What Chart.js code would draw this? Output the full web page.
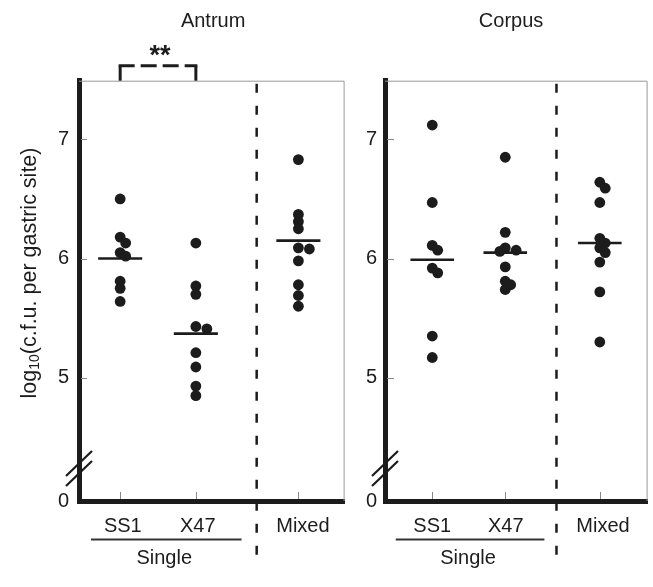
<!DOCTYPE html>
<html><head><meta charset="utf-8">
<script src="https://cdn.jsdelivr.net/npm/chart.js@4/dist/chart.umd.min.js"></script>
<style>
html,body{margin:0;padding:0;background:#fff;}
#wrap{position:relative;width:653px;height:587px;background:#fff;}
canvas{position:absolute;left:0;top:0;}
</style></head><body>
<div id="wrap"><canvas id="c1" width="653" height="587"></canvas><canvas id="c2" width="653" height="587"></canvas></div>
<script>
// ---- data ----
const categories = ['SS1', 'X47', 'Mixed'];
const groupLabel = 'Single';
const panelTitles = ['Antrum', 'Corpus'];
const yTickValues = [5, 6, 7];
const yBreakLabel = '0';
const yTitleMain = 'log';
const yTitleSub = '10';
const yTitleRest = '(c.f.u. per gastric site)';
const significance = '**';

const antrumSS1   = [6.50, 6.18, 6.13, 6.05, 6.02, 5.81, 5.75, 5.64];
const antrumX47   = [6.13, 5.77, 5.70, 5.43, 5.41, 5.21, 5.09, 4.93, 4.85];
const antrumMixed = [6.83, 6.37, 6.31, 6.25, 6.09, 6.08, 5.98, 5.78, 5.69, 5.60];
const antrumMeans = [6.00, 5.37, 6.15];

const corpusSS1   = [7.12, 6.47, 6.11, 6.07, 5.92, 5.88, 5.35, 5.17];
const corpusX47   = [6.85, 6.22, 6.09, 6.07, 6.06, 5.93, 5.81, 5.78, 5.74];
const corpusMixed = [6.64, 6.59, 6.47, 6.17, 6.13, 6.09, 6.05, 5.97, 5.72, 5.30];
const corpusMeans = [5.99, 6.05, 6.13];

// ---- layout / style ----
const Y_MIN = 3.966, Y_MAX = 7.492;
const FONT = 'Liberation Sans';
const INK = '#1c1c1c';
const PX_PER_Y = 119.2, PX_PER_X = 266;

function swarm(values, pos) {
  const placed = [], out = new Array(values.length);
  const order = values.map((v, i) => i).sort((a, b) => values[b] - values[a]);
  const step = 5.5, minD = 6.5;
  for (const i of order) {
    const v = values[i];
    for (let k = 0; k < 11; k++) {
      const off = (k === 0 ? 0 : (k % 2 ? 1 : -1) * Math.ceil(k / 2)) * step;
      if (placed.every(p => Math.hypot(p.off - off, (p.v - v) * PX_PER_Y) >= minD)) {
        placed.push({ v, off }); out[i] = { x: pos + off / PX_PER_X, y: v }; break;
      }
    }
  }
  return out;
}

const decoPlugin = {
  id: 'deco',
  beforeDatasetsDraw(chart, args, o) {
    const { ctx, chartArea: a, scales: { x, y } } = chart;
    ctx.save();
    ctx.strokeStyle = '#888'; ctx.lineWidth = 1;
    yTickValues.forEach(v => {
      const py = Math.round(y.getPixelForValue(v)) + 0.5;
      ctx.beginPath(); ctx.moveTo(a.left + 2, py); ctx.lineTo(a.left + o.yTickLen, py); ctx.stroke();
    });
    o.pos.forEach(p => {
      const px = Math.round(x.getPixelForValue(p)) + 0.5;
      ctx.beginPath(); ctx.moveTo(px, a.bottom - 2); ctx.lineTo(px, a.bottom - 9); ctx.stroke();
    });
    const dx = x.getPixelForValue(o.dash);
    ctx.strokeStyle = INK; ctx.lineWidth = 2.5; ctx.setLineDash([9, 13]);
    ctx.beginPath(); ctx.moveTo(dx, a.top + 3); ctx.lineTo(dx, a.bottom + 54); ctx.stroke();
    ctx.restore();
  },
  afterDraw(chart, args, o) {
    const { ctx, chartArea: a, scales: { x, y } } = chart;
    ctx.save();
    ctx.strokeStyle = '#999'; ctx.lineWidth = 1;
    ctx.beginPath(); ctx.moveTo(a.left, a.top + 0.5); ctx.lineTo(a.right - 0.5, a.top + 0.5); ctx.lineTo(a.right - 0.5, a.bottom); ctx.stroke();
    ctx.strokeStyle = INK; ctx.lineWidth = 2.2;
    [37, 27].forEach(d => {
      const cy = a.bottom - d;
      ctx.beginPath(); ctx.moveTo(a.left - 13, cy + 12); ctx.lineTo(a.left + 13, cy - 13); ctx.stroke();
    });
    const x1 = x.getPixelForValue(o.single[0]), x2 = x.getPixelForValue(o.single[1]);
    ctx.strokeStyle = '#333'; ctx.lineWidth = 2;
    ctx.beginPath(); ctx.moveTo(x1, a.bottom + 38.5); ctx.lineTo(x2, a.bottom + 38.5); ctx.stroke();
    ctx.fillStyle = INK; ctx.font = '20px "' + FONT + '"';
    ctx.textAlign = 'center'; ctx.textBaseline = 'middle';
    ctx.fillText(groupLabel, (x1 + x2) / 2 - 2, a.bottom + 57);
    ctx.fillText(o.title, x.getPixelForValue(o.titleX), 21);
    if (o.bracket) {
      const bx1 = x.getPixelForValue(o.pos[0]), bx2 = x.getPixelForValue(o.pos[1]);
      const by = a.top - 15;
      ctx.strokeStyle = INK; ctx.lineWidth = 3;
      ctx.beginPath(); ctx.moveTo(bx1, a.top); ctx.lineTo(bx1, by); ctx.stroke();
      ctx.beginPath(); ctx.moveTo(bx2, a.top); ctx.lineTo(bx2, by); ctx.stroke();
      ctx.setLineDash([16, 6]);
      ctx.beginPath(); ctx.moveTo(bx1 - 1.5, by); ctx.lineTo(bx2 + 1.5, by); ctx.stroke();
      ctx.setLineDash([]);
      ctx.font = 'bold 27px "' + FONT + '"';
      ctx.textBaseline = 'alphabetic';
      ctx.fillText(significance, (bx1 + bx2) / 2 + 2, 64);
    }
    if (o.yTitle) {
      ctx.translate(30, 273); ctx.rotate(-Math.PI / 2);
      ctx.textBaseline = 'middle'; ctx.textAlign = 'left';
      const f1 = '21.5px "' + FONT + '"', f2 = '14px "' + FONT + '"';
      ctx.font = f1; const w1 = ctx.measureText(yTitleMain).width, w3 = ctx.measureText(yTitleRest).width;
      ctx.font = f2; const w2 = ctx.measureText(yTitleSub).width;
      let sx = -(w1 + w2 + w3) / 2;
      ctx.font = f1; ctx.fillText(yTitleMain, sx, 0); sx += w1;
      ctx.font = f2; ctx.fillText(yTitleSub, sx, 5); sx += w2;
      ctx.font = f1; ctx.fillText(yTitleRest, sx, 0);
    }
    ctx.restore();
  }
};

function buildPanel(id, p) {
  const series = [p.s1, p.s2, p.s3];
  const datasets = [];
  series.forEach((vals, i) => {
    datasets.push({
      type: 'scatter', data: swarm(vals, p.pos[i]),
      pointRadius: 5.4, pointBackgroundColor: INK, pointBorderWidth: 0, pointHoverRadius: 5.4
    });
  });
  p.means.forEach((m, i) => {
    datasets.push({
      type: 'line', data: [{ x: p.pos[i] - 0.083, y: m }, { x: p.pos[i] + 0.083, y: m }],
      borderColor: INK, borderWidth: 2.6, pointRadius: 0, fill: false
    });
  });
  return new Chart(document.getElementById(id), {
    type: 'scatter',
    data: { datasets },
    options: {
      responsive: false, animation: false, events: [],
      layout: { padding: p.padding },
      plugins: { legend: { display: false }, tooltip: { enabled: false }, deco: p.deco },
      scales: {
        x: {
          type: 'linear', min: 0, max: 1,
          afterFit(s) { s.height = 86; },
          afterBuildTicks(s) { s.ticks = p.labelPos.map(v => ({ value: v })); },
          grid: { display: false, drawTicks: false },
          border: { display: true, width: 5, color: INK },
          ticks: {
            autoSkip: false, maxRotation: 0, minRotation: 0, padding: 13, color: INK,
            font: { family: FONT, size: 20 },
            callback: (v, i) => categories[i]
          }
        },
        y: {
          type: 'linear', min: Y_MIN, max: Y_MAX,
          afterFit(s) { s.width = p.yWidth; },
          afterBuildTicks(s) { s.ticks = [{ value: Y_MIN }].concat(yTickValues.map(v => ({ value: v }))); },
          grid: { display: false, drawTicks: false },
          border: { display: true, width: 5, color: INK },
          ticks: {
            autoSkip: false, padding: p.yPad, color: INK,
            font: { family: FONT, size: 20 },
            callback: v => (v === Y_MIN ? yBreakLabel : String(v))
          }
        }
      }
    },
    plugins: [decoPlugin]
  });
}

const leftPos = [0.155, 0.44, 0.826];
const rightPos = [0.18, 0.458, 0.818];
const leftLabelPos = [0.165, 0.447, 0.843];
const rightLabelPos = [0.18, 0.46, 0.83];

buildPanel('c1', {
  s1: antrumSS1, s2: antrumX47, s3: antrumMixed, means: antrumMeans, pos: leftPos, labelPos: leftLabelPos,
  padding: { left: 0, right: 308.4, top: 80.7, bottom: 0 }, yWidth: 79, yPad: 10,
  deco: { pos: leftPos, dash: 0.669, single: [0.045, 0.612], title: panelTitles[0], titleX: 0.505, bracket: true, yTitle: true, yTickLen: 8 }
});
buildPanel('c2', {
  s1: corpusSS1, s2: corpusX47, s3: corpusMixed, means: corpusMeans, pos: rightPos, labelPos: rightLabelPos,
  padding: { left: 350, right: 1, top: 80.7, bottom: 0 }, yWidth: 35, yPad: 8,
  deco: { pos: rightPos, dash: 0.653, single: [0.041, 0.607], title: panelTitles[1], titleX: 0.48, bracket: false, yTitle: false, yTickLen: 9 }
});
</script>
</body></html>
